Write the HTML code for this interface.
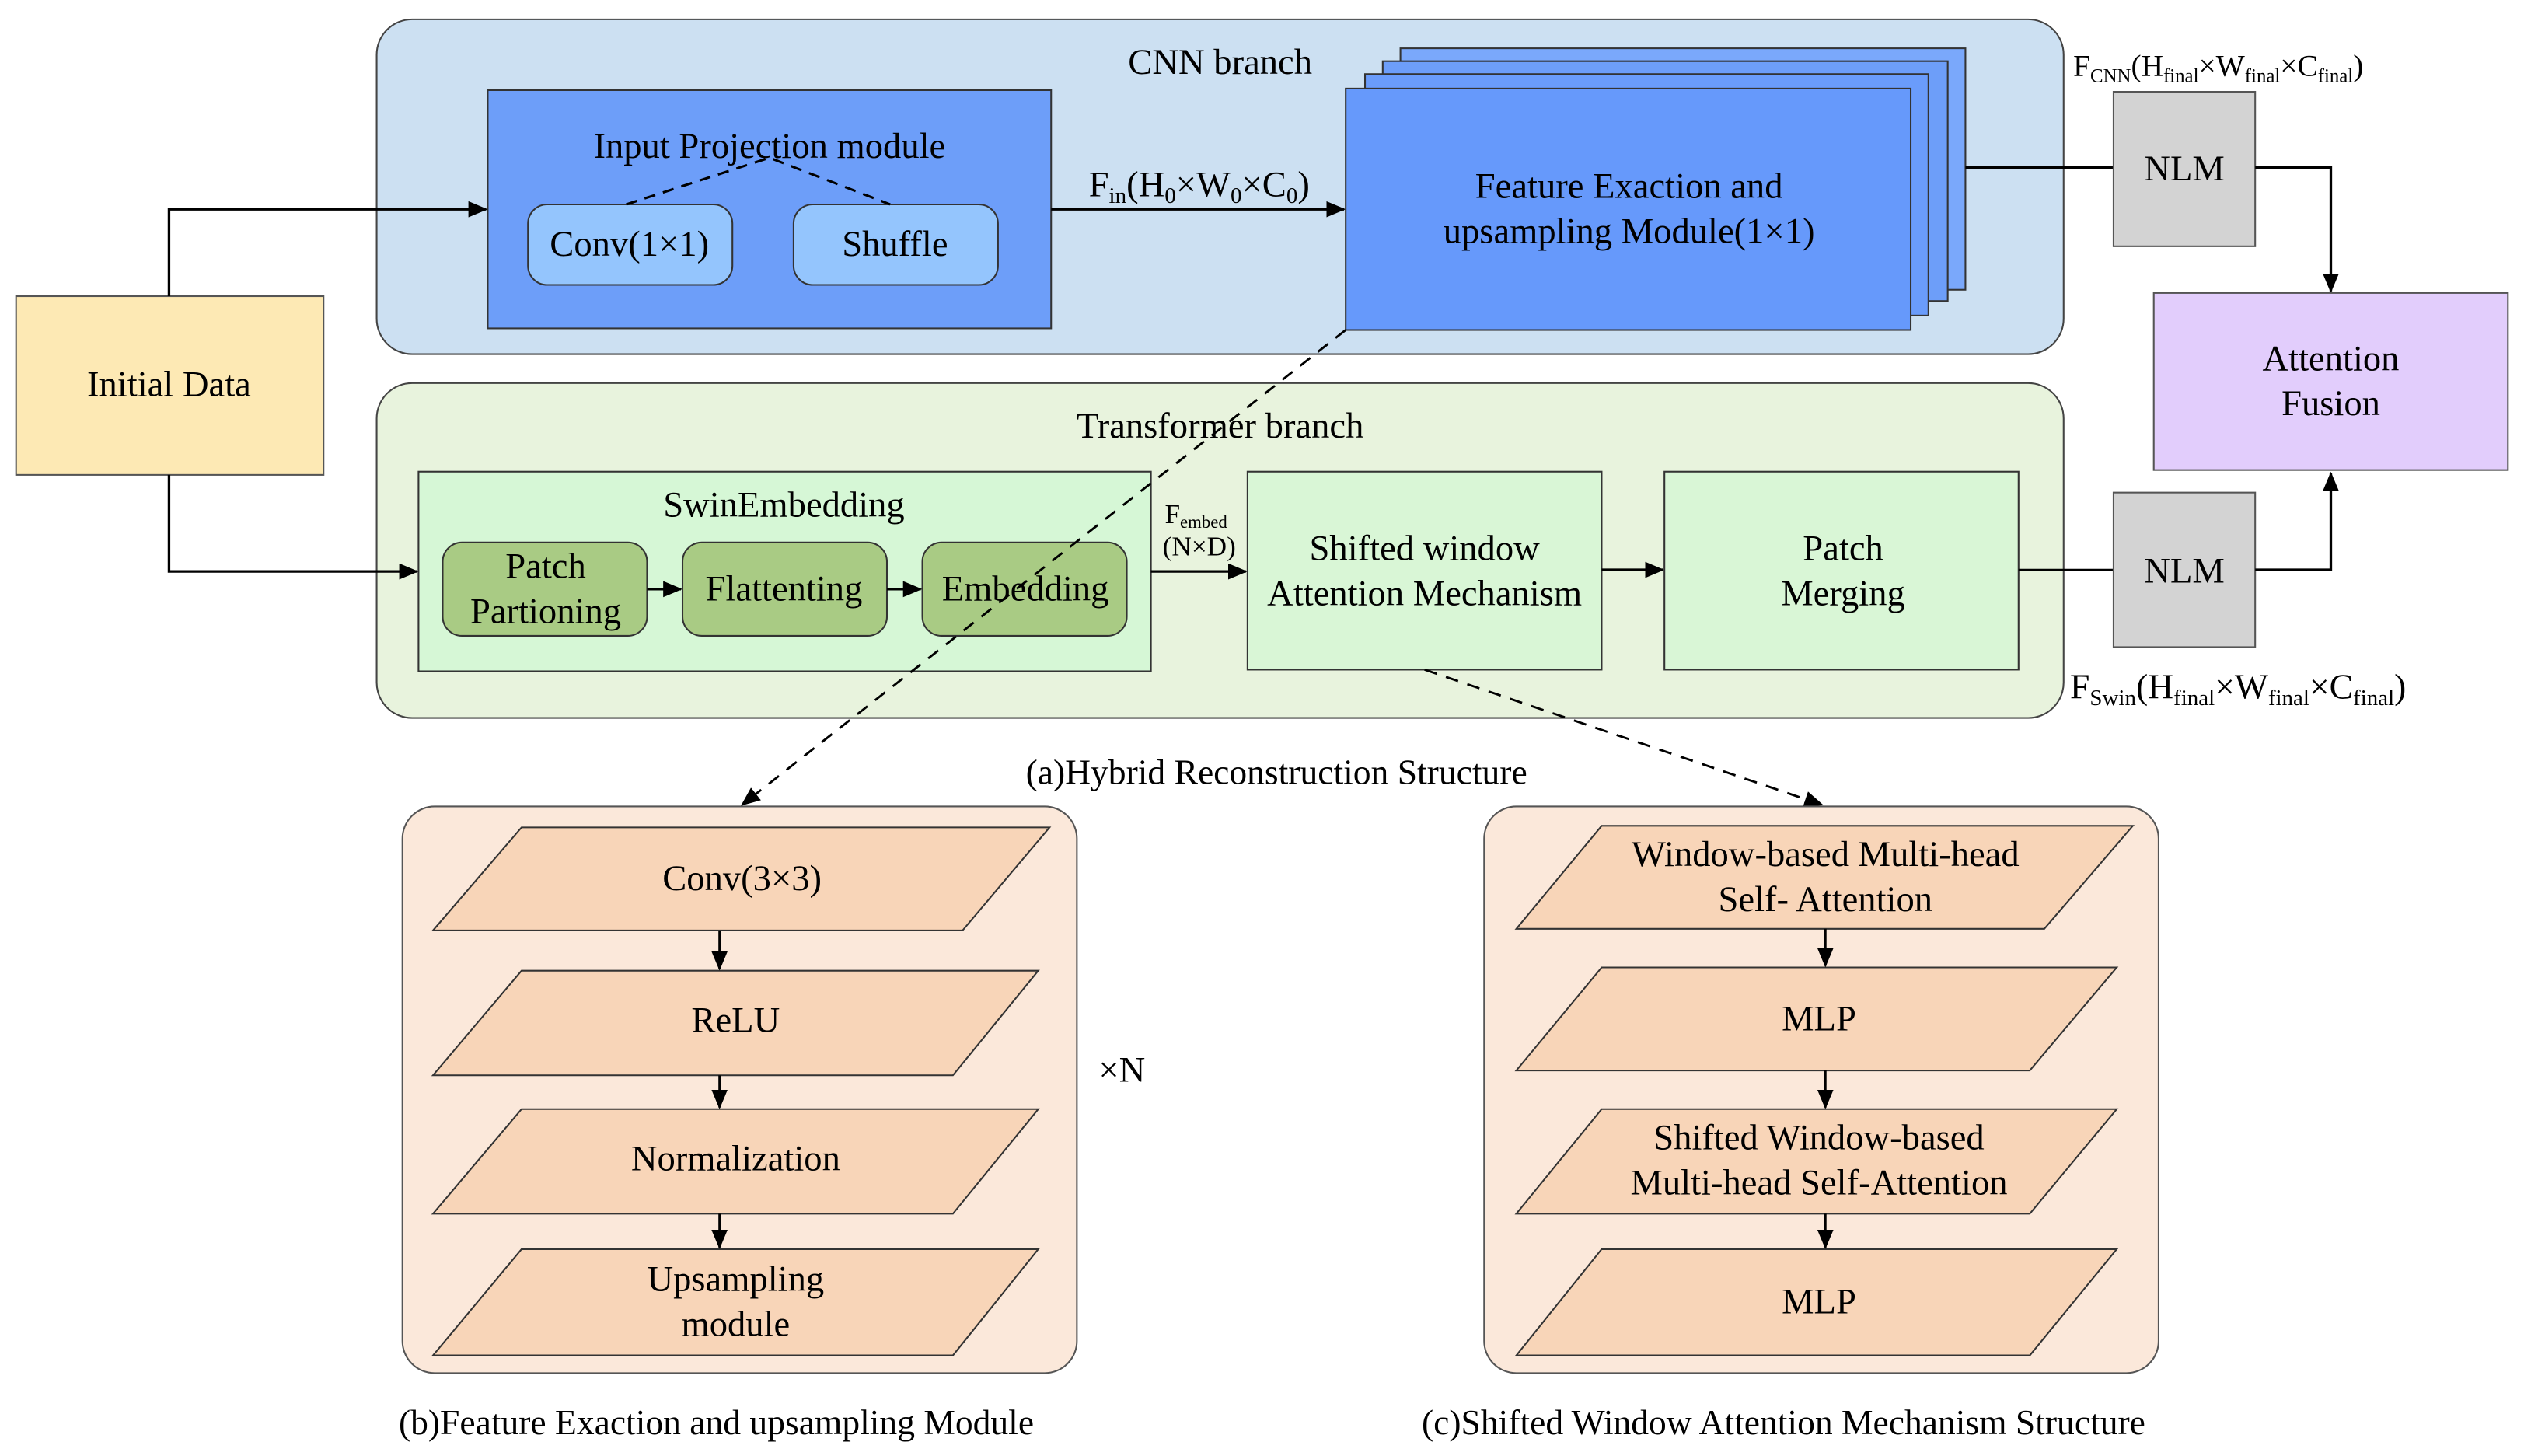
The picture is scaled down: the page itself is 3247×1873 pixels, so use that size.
<!DOCTYPE html>
<html><head><meta charset="utf-8"><style>
html,body{margin:0;padding:0;background:#fff;}
svg{display:block;}
text{font-family:"Liberation Serif",serif;fill:#000;}
</style></head><body>
<svg width="3247" height="1873" viewBox="0 0 1568 904.5" preserveAspectRatio="none" xmlns="http://www.w3.org/2000/svg">
<defs>
<marker id="ah" markerWidth="12" markerHeight="10" refX="11" refY="5" orient="auto" markerUnits="userSpaceOnUse"><path d="M0,0 L12,5 L0,10 z" fill="#000"/></marker>
</defs>
<g font-size="22.5" text-anchor="middle" font-family="Liberation Serif, serif">
<!-- Initial data -->
<rect x="10" y="184" width="191" height="111" fill="#fde9b4" stroke="#555" stroke-width="1"/>
<text x="105" y="246">Initial Data</text>

<!-- CNN panel -->
<rect x="234" y="12" width="1048" height="208" rx="22" fill="#cce0f2" stroke="#444" stroke-width="1"/>
<text x="758" y="46">CNN branch</text>
<rect x="303" y="56" width="350" height="148" fill="#6d9ef9" stroke="#333" stroke-width="1"/>
<text x="478" y="98">Input Projection module</text>
<rect x="328" y="127" width="127" height="50" rx="12" fill="#94c5fd" stroke="#333" stroke-width="1"/>
<text x="391" y="159">Conv(1×1)</text>
<rect x="493" y="127" width="127" height="50" rx="12" fill="#94c5fd" stroke="#333" stroke-width="1"/>
<text x="556" y="159">Shuffle</text>
<polyline points="389,127 478,98 553,127" fill="none" stroke="#000" stroke-width="1.5" stroke-dasharray="7,5"/>
<line x1="653" y1="130" x2="835" y2="130" stroke="#000" stroke-width="1.6" marker-end="url(#ah)"/>
<text x="745" y="122">F<tspan font-size="14" dy="4">in</tspan><tspan dy="-4">(H</tspan><tspan font-size="14" dy="4">0</tspan><tspan dy="-4">×W</tspan><tspan font-size="14" dy="4">0</tspan><tspan dy="-4">×C</tspan><tspan font-size="14" dy="4">0</tspan><tspan dy="-4">)</tspan></text>

<rect x="870" y="30" width="351" height="150" fill="#7aa8fb" stroke="#333" stroke-width="1"/>
<rect x="859" y="38" width="351" height="149" fill="#6d9ef9" stroke="#333" stroke-width="1"/>
<rect x="848" y="46" width="350" height="150" fill="#6a9cfb" stroke="#333" stroke-width="1"/>
<rect x="836" y="55" width="351" height="150" fill="#6699fb" stroke="#333" stroke-width="1"/>
<text x="1012" y="123">Feature Exaction and</text>
<text x="1012" y="151">upsampling Module(1×1)</text>

<line x1="1221" y1="104" x2="1313" y2="104" stroke="#000" stroke-width="1.6"/>
<rect x="1313" y="57" width="88" height="96" fill="#d3d3d3" stroke="#555" stroke-width="1"/>
<text x="1357" y="112">NLM</text>
<polyline points="1401,104 1448,104 1448,181" fill="none" stroke="#000" stroke-width="1.6" marker-end="url(#ah)"/>
<text x="1288" y="47" text-anchor="start" font-size="19">F<tspan font-size="12" dy="4">CNN</tspan><tspan dy="-4">(H</tspan><tspan font-size="12" dy="4">final</tspan><tspan dy="-4">×W</tspan><tspan font-size="12" dy="4">final</tspan><tspan dy="-4">×C</tspan><tspan font-size="12" dy="4">final</tspan><tspan dy="-4">)</tspan></text>

<rect x="1338" y="182" width="220" height="110" fill="#e2cdfc" stroke="#555" stroke-width="1"/>
<text x="1448" y="230">Attention</text>
<text x="1448" y="258">Fusion</text>

<!-- Transformer panel -->
<rect x="234" y="238" width="1048" height="208" rx="22" fill="#e8f3dd" stroke="#444" stroke-width="1"/>
<text x="758" y="272">Transformer branch</text>
<rect x="260" y="293" width="455" height="124" fill="#d6f7d6" stroke="#333" stroke-width="1"/>
<text x="487" y="321">SwinEmbedding</text>
<rect x="275" y="337" width="127" height="58" rx="12" fill="#a9cb84" stroke="#333" stroke-width="1"/>
<text x="339" y="359">Patch</text><text x="339" y="387">Partioning</text>
<rect x="424" y="337" width="127" height="58" rx="12" fill="#a9cb84" stroke="#333" stroke-width="1"/>
<text x="487" y="373">Flattenting</text>
<rect x="573" y="337" width="127" height="58" rx="12" fill="#a9cb84" stroke="#333" stroke-width="1"/>
<text x="637" y="373">Embedding</text>
<line x1="402" y1="366" x2="423" y2="366" stroke="#000" stroke-width="1.6" marker-end="url(#ah)"/>
<line x1="551" y1="366" x2="572" y2="366" stroke="#000" stroke-width="1.6" marker-end="url(#ah)"/>
<line x1="715" y1="355" x2="774" y2="355" stroke="#000" stroke-width="1.6" marker-end="url(#ah)"/>
<text x="743" y="325" font-size="17">F<tspan font-size="11" dy="3">embed</tspan></text>
<text x="745" y="345" font-size="17">(N×D)</text>

<rect x="775" y="293" width="220" height="123" fill="#d9f6d6" stroke="#333" stroke-width="1"/>
<text x="885" y="348">Shifted window</text>
<text x="885" y="376">Attention Mechanism</text>
<line x1="995" y1="354" x2="1033" y2="354" stroke="#000" stroke-width="1.6" marker-end="url(#ah)"/>
<rect x="1034" y="293" width="220" height="123" fill="#d9f6d6" stroke="#333" stroke-width="1"/>
<text x="1145" y="348">Patch</text>
<text x="1145" y="376">Merging</text>
<line x1="1254" y1="354" x2="1313" y2="354" stroke="#000" stroke-width="1.3"/>
<rect x="1313" y="306" width="88" height="96" fill="#d3d3d3" stroke="#555" stroke-width="1"/>
<text x="1357" y="362">NLM</text>
<polyline points="1401,354 1448,354 1448,294" fill="none" stroke="#000" stroke-width="1.6" marker-end="url(#ah)"/>
<text x="1286" y="434" text-anchor="start" font-size="22">F<tspan font-size="14" dy="4">Swin</tspan><tspan dy="-4">(H</tspan><tspan font-size="14" dy="4">final</tspan><tspan dy="-4">×W</tspan><tspan font-size="14" dy="4">final</tspan><tspan dy="-4">×C</tspan><tspan font-size="14" dy="4">final</tspan><tspan dy="-4">)</tspan></text>

<!-- arrows from initial data (on top) -->
<polyline points="105,184 105,130 302,130" fill="none" stroke="#000" stroke-width="1.6" marker-end="url(#ah)"/>
<polyline points="105,295 105,355 259,355" fill="none" stroke="#000" stroke-width="1.6" marker-end="url(#ah)"/>

<!-- dashed connectors -->
<line x1="836" y1="205" x2="461" y2="500" stroke="#000" stroke-width="1.4" stroke-dasharray="8,6" marker-end="url(#ah)"/>
<line x1="885" y1="416" x2="1132" y2="500" stroke="#000" stroke-width="1.4" stroke-dasharray="8,6" marker-end="url(#ah)"/>

<text x="793" y="487" font-size="22">(a)Hybrid Reconstruction Structure</text>

<!-- panel b -->
<rect x="250" y="501" width="419" height="352" rx="20" fill="#fbe8da" stroke="#555" stroke-width="1"/>
<g fill="#f8d5b8" stroke="#333" stroke-width="1">
<polygon points="324,514 652,514 598,578 269,578"/>
<polygon points="324,603 645,603 592,668 269,668"/>
<polygon points="324,689 645,689 592,754 269,754"/>
<polygon points="324,776 645,776 592,842 269,842"/>
</g>
<text x="461" y="553">Conv(3×3)</text>
<text x="457" y="641">ReLU</text>
<text x="457" y="727">Normalization</text>
<text x="457" y="802">Upsampling</text>
<text x="457" y="830">module</text>
<line x1="447" y1="578" x2="447" y2="602" stroke="#000" stroke-width="1.4" marker-end="url(#ah)"/>
<line x1="447" y1="668" x2="447" y2="688" stroke="#000" stroke-width="1.4" marker-end="url(#ah)"/>
<line x1="447" y1="754" x2="447" y2="775" stroke="#000" stroke-width="1.4" marker-end="url(#ah)"/>
<text x="697" y="672">×N</text>
<text x="445" y="891" font-size="22">(b)Feature Exaction and upsampling Module</text>

<!-- panel c -->
<rect x="922" y="501" width="419" height="352" rx="20" fill="#fbe8da" stroke="#555" stroke-width="1"/>
<g fill="#f8d5b8" stroke="#333" stroke-width="1">
<polygon points="995,513 1325,513 1270,577 942,577"/>
<polygon points="995,601 1315,601 1261,665 942,665"/>
<polygon points="995,689 1315,689 1261,754 942,754"/>
<polygon points="995,776 1315,776 1261,842 942,842"/>
</g>
<text x="1134" y="538">Window-based Multi-head</text>
<text x="1134" y="566">Self- Attention</text>
<text x="1130" y="640">MLP</text>
<text x="1130" y="714">Shifted Window-based</text>
<text x="1130" y="742">Multi-head Self-Attention</text>
<text x="1130" y="816">MLP</text>
<line x1="1134" y1="577" x2="1134" y2="600" stroke="#000" stroke-width="1.4" marker-end="url(#ah)"/>
<line x1="1134" y1="665" x2="1134" y2="688" stroke="#000" stroke-width="1.4" marker-end="url(#ah)"/>
<line x1="1134" y1="754" x2="1134" y2="775" stroke="#000" stroke-width="1.4" marker-end="url(#ah)"/>
<text x="1108" y="891" font-size="22">(c)Shifted Window Attention Mechanism Structure</text>
</g>
</svg>
</body></html>
